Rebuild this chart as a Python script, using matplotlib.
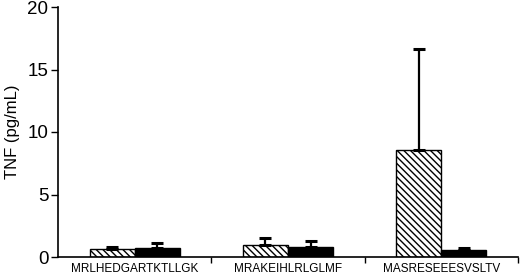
import numpy as np
import matplotlib
matplotlib.use("Agg")
import matplotlib.pyplot as plt

plt.rcParams['font.family'] = ['Liberation Sans', 'DejaVu Sans']
plt.rcParams['hatch.linewidth'] = 1.0

peptides = ["MRLHEDGARTKTLLGK", "MRAKEIHLRLGLMF", "MASRESEEESVSLTV"]
hatched_vals = [0.65, 0.93, 8.55]
hatched_err = [0.12, 0.57, 8.1]
black_vals = [0.75, 0.80, 0.60]
black_err = [0.40, 0.48, 0.15]

fig = plt.figure(figsize=(5.2, 2.8), dpi=100)
ax = fig.add_axes([58 / 520, 1 - 257 / 280, 460 / 520, 250 / 280])

x = np.arange(len(peptides))
w = 0.294
ax.bar(x - w / 2, hatched_vals, w, color="white", edgecolor="black", hatch="\\" * 5,
       linewidth=1.0, yerr=[np.zeros(3), hatched_err], capsize=4,
       error_kw=dict(elinewidth=1.6, capthick=2.2, ecolor="black"))
ax.bar(x + w / 2, black_vals, w, color="black", edgecolor="black",
       linewidth=1.0, yerr=[np.zeros(3), black_err], capsize=4,
       error_kw=dict(elinewidth=1.6, capthick=2.2, ecolor="black"))

ax.set_xlim(-0.5, 2.5)
ax.set_ylim(0, 20)
ax.set_yticks([0, 5, 10, 15, 20])
ax.set_xticks(x)
ax.set_xticklabels(peptides, fontsize=8.5)
ax.set_xticks([0.5, 1.5, 2.5], minor=True)
ax.tick_params(axis="x", which="major", length=0, pad=4)
ax.tick_params(axis="x", which="minor", length=4, width=1)
ax.tick_params(axis="y", labelsize=13.5, length=5, width=1, pad=2)
ax.set_ylabel("TNF (pg/mL)", fontsize=12, labelpad=5)

for s in ["top", "right"]:
    ax.spines[s].set_visible(False)
for s in ["left", "bottom"]:
    ax.spines[s].set_linewidth(1.2)

fig.savefig("out.png", dpi=100)
